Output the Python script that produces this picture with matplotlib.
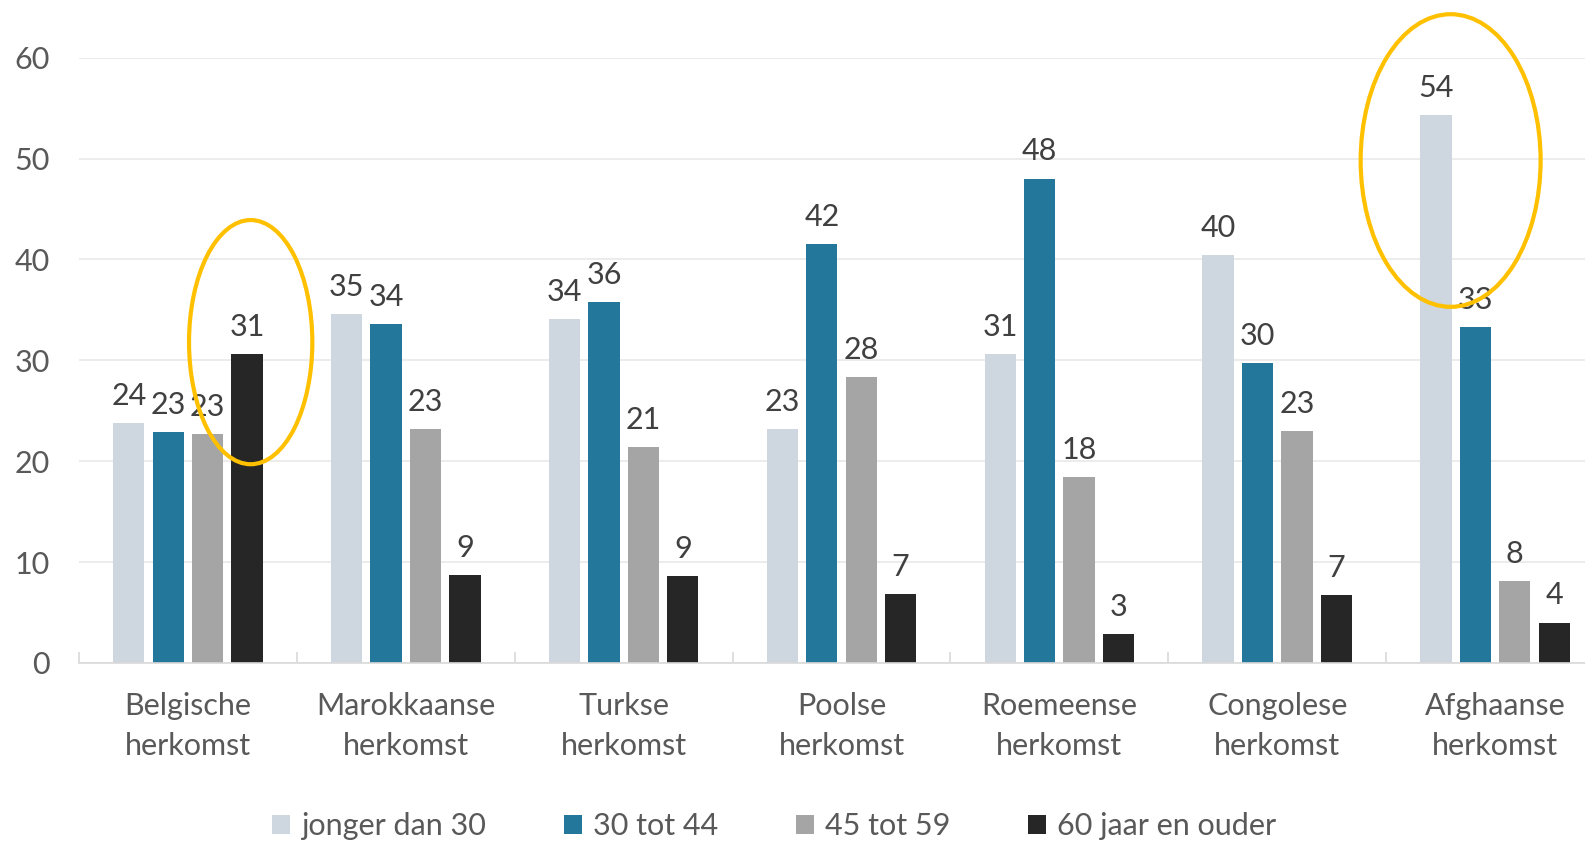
import matplotlib.pyplot as plt
from matplotlib.patches import Ellipse
import numpy as np

plt.rcParams['font.family'] = ['Lato', 'DejaVu Sans']

categories = ['Belgische\nherkomst', 'Marokkaanse\nherkomst', 'Turkse\nherkomst', 'Poolse\nherkomst',
              'Roemeense\nherkomst', 'Congolese\nherkomst', 'Afghaanse\nherkomst']
series = ['jonger dan 30', '30 tot 44', '45 tot 59', '60 jaar en ouder']
jonger_30 = [23.8, 34.6, 34.1, 23.2, 30.6, 40.4, 54.3]
tot_44 = [22.9, 33.6, 35.8, 41.5, 48.0, 29.7, 33.3]
tot_59 = [22.7, 23.2, 21.4, 28.3, 18.4, 23.0, 8.1]
ouder_60 = [30.6, 8.7, 8.6, 6.8, 2.9, 6.7, 4.0]
yticks = [0, 10, 20, 30, 40, 50, 60]

colors = ['#CED6DF', '#23779B', '#A5A5A5', '#262626']
text_col = '#595959'
fs = 22

fig = plt.figure(figsize=(15.85, 8.41), dpi=100)
# axes runs a little past the right edge, as in the (cropped) original
ax = fig.add_axes([79 / 1585, 1 - 663 / 841, 1525 / 1585, (663 - 57.6) / 841])

x = np.arange(len(categories))
width = 0.144
step = 0.181
for i, (vals, name) in enumerate(zip([jonger_30, tot_44, tot_59, ouder_60], series)):
    bars = ax.bar(x + (i - 1.5) * step, vals, width, color=colors[i], label=name, zorder=2)
    ax.bar_label(bars, labels=[f'{v:.0f}' for v in vals], padding=9.5, fontsize=fs, color='#404040')

ax.set_xlim(-0.5, len(categories) - 0.5)
ax.set_ylim(0, 60)
ax.set_yticks(yticks)
ax.tick_params(axis='y', length=0, pad=21, labelsize=fs, labelcolor=text_col)
ax.set_xticks(x)
ax.set_xticklabels(categories, fontsize=fs, color=text_col, linespacing=1.5)
ax.set_xticks(np.arange(len(categories) + 1) - 0.5, minor=True)
ax.tick_params(axis='x', which='major', length=0, pad=21)
ax.tick_params(axis='x', which='minor', direction='in', length=8, color='#D9D9D9', width=1.2)
ax.grid(axis='y', color='#E9E9E9', linewidth=1.2, zorder=0)
for s in ['top', 'right', 'left']:
    ax.spines[s].set_visible(False)
ax.spines['bottom'].set_color('#D9D9D9')
ax.spines['bottom'].set_linewidth(1.2)

# yellow highlight ellipses
ax.add_patch(Ellipse((0.288, 31.8), 0.566, 24.2, fill=False, edgecolor='#FFC000', linewidth=3, zorder=3))
ax.add_patch(Ellipse((5.796, 49.8), 0.826, 29.0, fill=False, edgecolor='#FFC000', linewidth=3, zorder=3,
                     clip_on=False))

fig.legend(loc='center', bbox_to_anchor=(774 / 1585, 1 - 826 / 841), ncol=4, frameon=False,
           fontsize=fs, labelcolor=text_col, handlelength=0.6, handleheight=0.6, handletextpad=0.35,
           columnspacing=2.55)

fig.savefig('out.png', dpi=100)
